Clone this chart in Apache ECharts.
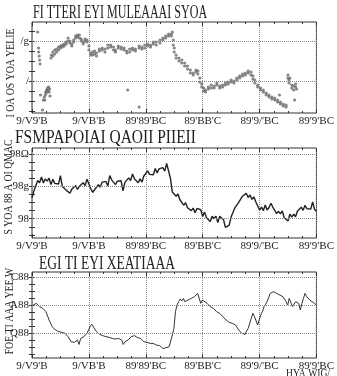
<!DOCTYPE html>
<html>
<head>
<meta charset="utf-8">
<script src="https://cdn.jsdelivr.net/npm/echarts@6/dist/echarts.min.js"></script>
<style>
html, body { margin: 0; padding: 0; background: #fff; }
#chart { width: 337px; height: 376px; }
</style>
</head>
<body>
<div id="chart"></div>
<script>
// shared time axis (days), same ticks on the three panels
var dayTicks = [0, 60, 120, 180, 240, 300];
var dayLabels = ["9/V9'B", "9/VB'B", "89'89'BC", "89'BB'C", "89'9/'BC", "89'9'BC"];

// panel 1 : scatter [day, value]
var p1Points = [
  [6,22.25],[7,18.25],[7,17.25],[7.5,16.25],[8,15.25],[8.5,14.25],[9,6.5],[11,2.75],[12,5.25],[13,6],[13.5,5.25],
  [14,6.5],[14.5,7.25],[15,7],[15.5,7.75],[16,7.75],[16.5,8.25],[17,7.5],[17.5,8.5],[18,7.25],[18.5,8],[19,6.25],
  [20,15.75],[20.5,16.5],[22,16.25],[22,17.25],[24,16.75],[24,17.75],[26,17.25],[26,18],[28,17.75],[28,18.5],
  [30,18.25],[30,18.75],[32,19],[32,18.5],[34,19.25],[34,18.75],[36,19.75],[36,19.25],[38,20.75],[38,20],
  [40,20],[40,19.5],[42,19.25],[42,18.75],[44,19.75],[44,20.25],[46,20.75],[46,21.25],[48,21.5],[48,21],
  [50,21.5],[50,20.75],[52,20.5],[52,20],[54,19.75],[54,19.25],[56,20],[56,20.5],[58,20.25],[58,19.75],
  [60,18.75],[60,17.75],[62,17],[62,16.5],[64,16.5],[64,17.25],[66,16.75],[66,17.5],[68,17],[68,16.25],
  [71,17.5],[71,18],[74,17.75],[74,18.25],[77,18],[77,17.25],[80,18.25],[80,19],[83,19],[83,18.5],
  [86,18.5],[86,17.75],[88,17.75],[88,17.25],[91,18.25],[91,18.75],[94,18.5],[94,18],[97,17.75],[97,18.25],
  [100,17.5],[100,17],[101,7.75],[103,17.25],[103,18],[106,17.75],[106,18.25],[109,18],[109,17.5],
  [113,18.25],[113,18.75],[113,3.5],[116,18.5],[116,18],[119,19],[119,18.25],[122,18.75],[122,19.25],
  [125,19],[125,18.5],[128,19.25],[128,19.75],[131,19.75],[131,19],[135,19.5],[135,20.25],[138,20.25],[138,20.75],
  [141,20.75],[141,21.25],[144,21.25],[144,21.75],[147,21.75],[147,21.25],[148,22.25],[149,20.25],[149,19],
  [150,18.25],[150,17.25],[152,16.5],[152,15.75],[155,15.75],[155,15],[158,15.25],[158,14.5],[161,14.5],[161,13.75],
  [164,13.75],[164,13],[167,12.75],[167,12],[170,11.5],[170,12],[173,12.25],[173,12.75],[175,12.5],[175,11.75],
  [177,10.75],[177,9.75],[179,9.25],[179,8.5],[181,8.25],[181,7.5],[183,7.75],[183,7.25],[186,8],[186,8.5],
  [189,8.25],[189,9],[192,8.75],[192,8.25],[195,9],[195,9.5],[198,8.75],[198,8.25],[201,8.5],[201,9],
  [204,9],[204,9.5],[207,9.25],[207,9.75],[210,9.75],[210,10.25],[213,10],[213,9.5],[216,10.25],[216,10.75],
  [219,10.75],[219,11.25],[222,11.25],[222,11.75],[225,12],[225,11.5],[228,12],[228,12.5],[231,12.25],[231,11.5],
  [233,11.25],[233,10.5],[235,10.25],[235,9.5],[238,9],[238,8.5],[241,8.25],[241,7.75],[244,7.75],[244,7.25],
  [247,7],[247,6.5],[250,6.5],[250,6],[253,6],[253,5.5],[256,5.75],[256,5.25],[259,5.25],[259,4.75],[261,6.5],
  [262,4.75],[262,4.25],[265,4.25],[265,3.75],[268,4],[268,3.5],[270,11.5],[270,10.75],[271,10.25],[271,9.5],
  [272,10.75],[274,9],[274,8.25],[276,8.75],[276,7.75],[277,5.25],[278,8.5],[278,9.25],[279,8]
];
var p1Ticks = [10, 20];
var p1Labels = ['/', '/g'];
var p1Minor = [2.5, 5, 7.5, 10, 12.5, 15, 17.5, 20, 22.5];

// panel 2 : one value every 2 days, day 0 .. 300
var p2Step = 2;
var p2Values = [
  56.5,58.6,59.2,61.9,61.2,63.0,61.1,62.4,61.7,62.6,
  60.6,62.3,61.0,61.3,60.8,63.4,60.0,60.2,58.9,59.4,
  57.9,59.2,58.6,60.3,59.1,60.1,59.6,61.2,60.3,62.3,
  62.9,59.4,58.2,59.0,58.6,60.6,59.8,61.4,60.8,61.6,
  60.2,63.4,62.1,62.3,60.6,61.7,61.1,61.8,58.7,61.3,
  61.8,62.7,61.9,63.9,62.4,63.0,61.2,62.4,61.4,63.3,
  63.1,64.9,63.8,64.2,63.7,65.6,64.2,65.5,64.9,65.9,
  64.8,67.2,66.8,62.6,58.3,58.4,57.0,57.7,55.9,56.2,
  54.2,55.0,53.4,54.0,52.5,53.3,51.9,53.2,52.6,52.8,
  50.7,52.1,50.3,50.1,49.1,50.8,50.0,50.8,48.8,50.8,
  50.3,49.7,47.3,47.8,48.0,50.5,51.0,53.4,53.1,55.1,
  54.9,57.0,56.5,57.9,56.6,57.4,56.0,56.8,55.3,55.1,
  52.7,53.6,52.5,54.3,52.7,53.5,54.8,53.6,53.6,51.6,
  52.3,51.5,52.4,50.3,50.8,49.3,51.4,50.5,51.4,50.6,
  52.4,51.9,53.6,52.6,54.2,53.1,53.4,53.0,55.2,52.9,
  52.3
];
var p2Ticks = [50, 60, 70];
var p2Labels = ['98', '98g', '98\u03a9'];
var p2Minor = [45, 47.5, 50, 52.5, 55, 57.5, 60, 62.5, 65, 67.5, 70];

// panel 3 : line [day, value]
var p3Points = [
  [1.3,402],[4.7,414],[8,390],[11.3,378],[14.7,354],[18,294],[21.3,246],[24.7,222],[28,210],[31.3,205],
  [34.7,198],[38,174],[41.3,137],[44.7,133],[48,149],[49.7,118],[51.3,161],[53,149],[54.7,174],[58,198],
  [61.3,246],[63,263],[64.7,258],[68,210],[71.3,190],[74.7,181],[78,174],[81.3,169],[84.7,161],[88,157],
  [91.3,161],[94.7,149],[96.3,118],[98,137],[101.3,149],[104.7,174],[108,181],[111.3,167],[114.7,161],[118,137],
  [121.3,133],[124.7,125],[128,125],[131.3,113],[134.7,109],[138,89],[141.3,94],[144.7,101],[148,186],[149.7,234],
  [151.3,354],[153,402],[154.7,426],[156.3,446],[158,431],[159.7,450],[161.3,426],[164.7,438],[168,450],[171.3,462],
  [173,450],[174.7,486],[176.3,474],[178,414],[179.7,438],[181.3,426],[184.7,414],[188,390],[191.3,378],[194.7,354],
  [198,342],[201.3,318],[204.7,294],[208,277],[211.3,270],[214.7,258],[218,222],[221.3,198],[224.7,190],[226.3,214],
  [228,234],[231.3,306],[233,342],[234.7,318],[238,258],[241.3,330],[243,354],[244.7,390],[248,426],[251.3,486],
  [254.7,498],[258,486],[261.3,474],[264.7,462],[268,426],[269.7,402],[271.3,450],[273,462],[274.7,390],[278,426],
  [281.3,414],[283,366],[284.7,414],[286.3,450],[288,486],[289.7,462],[291.3,450],[293,438],[294.7,426],[298,414],
  [299.7,402]
];
var p3Ticks = [200, 400, 600];
var p3Labels = ['Q88', 'A88', 'C88'];
var p3Minor = [50, 100, 150, 200, 250, 300, 350, 400, 450, 500, 550, 600];

var titles = ['FI TTERI EYI MULEAAAI SYOA', 'FSMPAPOIAI QAOII PIIEII', 'EGI TI EYI XEATIAAA'];
var yNames = ['I OA OS YOA YELIE', 'S YOA 88 A OI QMAC', 'FOE TI AAA YEE W'];
var cornerNote = 'HYA WIG/';

var FONT = 'Liberation Serif';
var panels = [
  { top: 22, height: 91, min: 2, max: 24.75, ticks: p1Ticks, labels: p1Labels, minor: p1Minor },
  { top: 148, height: 90, min: 44, max: 72, ticks: p2Ticks, labels: p2Labels, minor: p2Minor },
  { top: 272, height: 86, min: 20, max: 640, ticks: p3Ticks, labels: p3Labels, minor: p3Minor }
];

var grids = [], xAxes = [], yAxes = [];
panels.forEach(function (p, i) {
  grids.push({ left: 32, right: 4, top: p.top, height: p.height, show: true,
    borderColor: '#333', borderWidth: 1, backgroundColor: 'transparent' });
  // bottom x axis with labels and grid lines
  xAxes.push({
    type: 'value', gridIndex: i, min: 0, max: 300, interval: 60,
    axisLine: { show: false },
    axisTick: { inside: true, length: 4, lineStyle: { color: '#333' } },
    minorTick: { show: true, splitNumber: 4, length: 2, lineStyle: { color: '#333' } },
    axisLabel: { margin: 3, fontFamily: FONT, fontSize: 11, color: '#222',
      formatter: function (v) { var k = dayTicks.indexOf(v); return k < 0 ? '' : dayLabels[k]; } },
    splitLine: { show: true, lineStyle: { type: 'dotted', color: '#888', width: 1 } }
  });
  // mirrored top axis (ticks only)
  xAxes.push({
    type: 'value', gridIndex: i, position: 'top', min: 0, max: 300, interval: 60,
    axisLine: { show: false },
    axisTick: { inside: true, length: 4, lineStyle: { color: '#333' } },
    minorTick: { show: true, splitNumber: 4, length: 2, lineStyle: { color: '#333' } },
    axisLabel: { show: false }, splitLine: { show: false }
  });
  yAxes.push({
    type: 'value', gridIndex: i, min: p.min, max: p.max, position: 'left',
    axisLine: { show: false },
    axisTick: { inside: true, length: 3, customValues: p.minor, lineStyle: { color: '#333' } },
    axisLabel: { margin: 3, fontFamily: FONT, fontSize: 11, color: '#222', customValues: p.ticks,
      formatter: function (v) { var k = p.ticks.indexOf(v); return k < 0 ? '' : p.labels[k]; } },
    splitLine: { show: false }
  });
  yAxes.push({
    type: 'value', gridIndex: i, min: p.min, max: p.max, position: 'right',
    axisLine: { show: false },
    axisTick: { inside: true, length: 3, customValues: p.minor, lineStyle: { color: '#333' } },
    axisLabel: { show: false }, splitLine: { show: false }
  });
});

function gridLines(ticks) {
  return {
    silent: true, symbol: ['none', 'none'], animation: false,
    label: { show: false },
    lineStyle: { type: 'dotted', color: '#888', width: 1 },
    data: ticks.map(function (v) { return { yAxis: v }; })
  };
}

var p2Data = p2Values.map(function (v, k) { return [k * p2Step, v]; });

function txt(x, y, s, size, sx, rot, align) {
  return { type: 'text', x: x, y: y, scaleX: sx, rotation: rot || 0,
    style: { text: s, font: size + 'px "' + FONT + '"', fill: '#222',
      textAlign: align || 'left', textVerticalAlign: 'middle' } };
}

var graphics = [
  txt(33, 13, titles[0], 18, 0.67),
  txt(15, 138, titles[1], 18, 0.86),
  txt(39, 264, titles[2], 18, 0.75),
  txt(11, 73, yNames[0], 13, 0.75, Math.PI / 2, 'center'),
  txt(9, 187, yNames[1], 13, 0.75, Math.PI / 2, 'center'),
  txt(10, 311, yNames[2], 13, 0.75, Math.PI / 2, 'center'),
  txt(308, 374, cornerNote, 12, 0.8, 0, 'center')
];

var chart = echarts.init(document.getElementById('chart'), null, { renderer: 'canvas' });
chart.setOption({
  animation: false,
  backgroundColor: '#fff',
  grid: grids,
  xAxis: xAxes,
  yAxis: yAxes,
  graphic: graphics,
  series: [
    { type: 'scatter', xAxisIndex: 0, yAxisIndex: 0, data: p1Points, symbol: 'circle', symbolSize: 3.2,
      itemStyle: { color: '#6a6a6a' }, markLine: gridLines(p1Ticks) },
    { type: 'line', xAxisIndex: 2, yAxisIndex: 2, data: p2Data, showSymbol: false,
      lineStyle: { color: '#222', width: 1.4 }, markLine: gridLines(p2Ticks) },
    { type: 'line', xAxisIndex: 4, yAxisIndex: 4, data: p3Points, showSymbol: false,
      lineStyle: { color: '#333', width: 1 }, markLine: gridLines(p3Ticks) }
  ]
});
</script>
</body>
</html>
